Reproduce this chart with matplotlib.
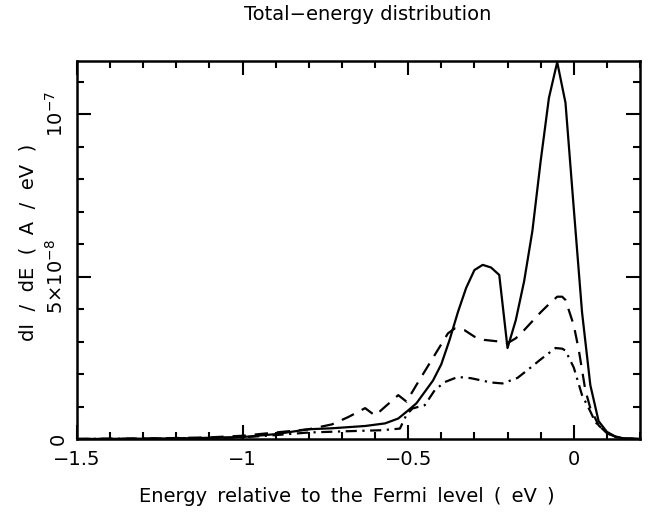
import matplotlib
matplotlib.use('Agg')
import matplotlib.pyplot as plt
from matplotlib.ticker import MultipleLocator

plt.rcParams['font.family'] = ['DejaVu Sans']

# energy (eV) and dI/dE in units of 1e-8 A/eV
e_solid = [-1.5, -1.3, -1.1, -1.0, -0.9, -0.8, -0.73, -0.63, -0.57, -0.53, -0.5,
           -0.475, -0.45, -0.425, -0.4, -0.375, -0.35, -0.325, -0.3, -0.275,
           -0.25, -0.225, -0.2, -0.175, -0.15, -0.125, -0.1, -0.075, -0.05,
           -0.025, 0.0, 0.025, 0.05, 0.075, 0.1, 0.125, 0.15, 0.2]
v_solid = [0.0, 0.01, 0.03, 0.06, 0.15, 0.3, 0.33, 0.4, 0.48, 0.63, 0.88,
           1.1, 1.45, 1.8, 2.3, 3.05, 3.9, 4.65, 5.2, 5.36,
           5.28, 5.05, 2.8, 3.66, 4.85, 6.4, 8.55, 10.5, 11.6,
           10.35, 7.1, 3.9, 1.66, 0.55, 0.22, 0.08, 0.02, 0.0]

e_dash = [-1.5, -1.3, -1.1, -1.0, -0.9, -0.8, -0.73, -0.68, -0.63, -0.6, -0.53,
          -0.505, -0.47, -0.44, -0.41, -0.38, -0.36, -0.33, -0.3, -0.27, -0.225,
          -0.2, -0.175, -0.15, -0.1, -0.075, -0.05, -0.035, -0.025, 0.0, 0.015,
          0.035, 0.05, 0.075, 0.1, 0.125, 0.15, 0.2]
v_dash = [0.0, 0.01, 0.05, 0.1, 0.2, 0.3, 0.45, 0.68, 0.95, 0.72, 1.35,
          1.15, 1.75, 2.25, 2.75, 3.25, 3.4, 3.35, 3.15, 3.05, 3.0,
          2.95, 3.1, 3.35, 3.9, 4.15, 4.38, 4.38, 4.28, 3.5, 2.75,
          1.5, 0.95, 0.42, 0.18, 0.07, 0.02, 0.0]

e_dashdot = [-1.5, -1.2, -1.0, -0.9, -0.8, -0.68, -0.58, -0.525, -0.505, -0.487,
             -0.45, -0.42, -0.39, -0.35, -0.31, -0.25, -0.215, -0.17, -0.13,
             -0.1, -0.055, -0.035, -0.025, 0.0, 0.025, 0.05, 0.065, 0.1, 0.125,
             0.15, 0.2]
v_dashdot = [0.0, 0.02, 0.05, 0.12, 0.2, 0.24, 0.27, 0.32, 0.75, 0.94,
             1.04, 1.5, 1.75, 1.91, 1.87, 1.74, 1.71, 1.88, 2.2,
             2.45, 2.8, 2.78, 2.72, 2.2, 1.35, 0.85, 0.52, 0.18, 0.06,
             0.02, 0.0]

x_ticks = [-1.5, -1.0, -0.5, 0.0]
x_ticklabels = ['\u22121.5', '\u22121', '\u22120.5', '0']
y_ticks = [0.0, 5e-8, 1e-7]
y_ticklabels = ['0', '5\u00d710$^{\\mathregular{\u22128}}$', '10$^{\\mathregular{\u22127}}$']

fig = plt.figure(figsize=(6.51, 5.12), dpi=100)
ax = fig.add_axes([0.1183, 0.1426, 0.8648, 0.7383])

scale = 1e-8
ax.plot(e_solid, [v * scale for v in v_solid], color='black', lw=1.6, linestyle='-')
ax.plot(e_dash, [v * scale for v in v_dash], color='black', lw=1.6, linestyle=(0, (6, 4)))
ax.plot(e_dashdot, [v * scale for v in v_dashdot], color='black', lw=1.6,
        linestyle=(0, (5, 2.5, 1, 2.5)))

ax.set_xlim(-1.5, 0.2)
ax.set_ylim(0, 1.1636e-7)

ax.set_xticks(x_ticks)
ax.set_xticklabels(x_ticklabels, fontsize=14)
ax.set_yticks(y_ticks)
ax.set_yticklabels(y_ticklabels, fontsize=14, rotation=90, va='center')
ax.xaxis.set_minor_locator(MultipleLocator(0.1))
ax.yaxis.set_minor_locator(MultipleLocator(1e-8))

ax.tick_params(which='both', direction='in', top=True, right=True, width=1.5)
ax.tick_params(which='major', length=10)
ax.tick_params(which='minor', length=5)
ax.tick_params(axis='x', pad=8)
ax.tick_params(axis='y', pad=7)
for sp in ax.spines.values():
    sp.set_linewidth(1.8)

fig.text(368 / 651, 1 - 15 / 512, 'Total\u2212energy distribution', ha='center', va='center', fontsize=14)
fig.text(347 / 651, 1 - 497 / 512, 'Energy \u2009relative \u2009to \u2009the \u2009Fermi \u2009level \u2009( \u2009eV \u2009)',
         ha='center', va='center', fontsize=14)
fig.text(28 / 651, 1 - 242 / 512, 'dI  /  dE  (  A  /  eV  )', ha='center', va='center',
         rotation=90, fontsize=14)

fig.savefig('out.png', dpi=100)
